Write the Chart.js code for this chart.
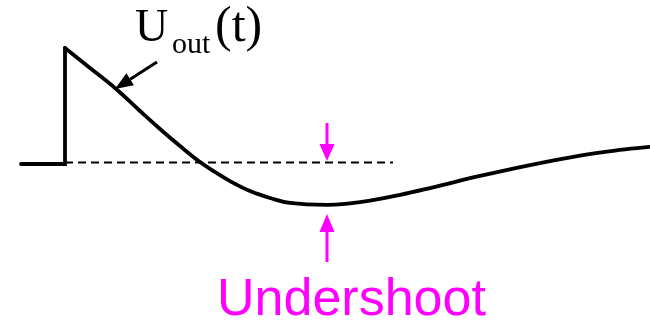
<!DOCTYPE html>
<html>
<head>
<meta charset="utf-8">
<script src="https://cdn.jsdelivr.net/npm/chart.js@4.4.1/dist/chart.umd.min.js"></script>
<style>
  html, body { margin: 0; padding: 0; background: #ffffff; }
  #wrap { width: 650px; height: 323px; }
</style>
</head>
<body>
<div id="wrap"><canvas id="c" width="650" height="323"></canvas></div>
<script>
// ---- data (time in arbitrary units, voltage normalised so the peak = 1) ----
const stepT = [-0.44, 0, 0];
const stepV = [0, 0, 1.0];

const responseT = [0, 0.25, 0.50, 0.75, 0.95, 1.15, 1.35, 1.50, 1.65, 1.85, 2.05, 2.25, 2.62, 2.85, 3.05, 3.35, 3.68, 4.15, 4.65, 5.15, 5.50, 5.85];
const responseV = [1.0, 0.828, 0.655, 0.457, 0.302, 0.155, 0.017, -0.069, -0.147, -0.233, -0.293, -0.336, -0.353, -0.339, -0.316, -0.267, -0.201, -0.103, -0.009, 0.073, 0.116, 0.147];

const referenceT = [0, 3.28];
const referenceV = [0.012, 0.012];

// annotation anchors (data units)
const undershootArrowT = 2.62;
const downArrowV = [0.353, 0.026];   // from, tip
const upArrowV = [-0.845, -0.431];   // from, tip
const labelArrowT = [0.92, 0.50];    // tail, tip
const labelArrowV = [0.879, 0.647];
const labelPos = [0.70, 1.06];
const undershootPos = [1.52, -1.302];

const toXY = (ts, vs) => ts.map((t, i) => ({ x: t, y: vs[i] }));

const annotations = {
  id: 'annotations',
  afterDatasetsDraw(chart) {
    const { ctx, scales: { x, y } } = chart;
    const px = t => x.getPixelForValue(t);
    const py = v => y.getPixelForValue(v);

    function arrow(x0, y0, x1, y1, color, lw, headLen, headW) {
      const ang = Math.atan2(y1 - y0, x1 - x0);
      const bx = x1 - headLen * Math.cos(ang), by = y1 - headLen * Math.sin(ang);
      ctx.save();
      ctx.strokeStyle = color; ctx.fillStyle = color; ctx.lineWidth = lw;
      ctx.beginPath(); ctx.moveTo(x0, y0); ctx.lineTo(bx, by); ctx.stroke();
      ctx.beginPath();
      ctx.moveTo(x1, y1);
      ctx.lineTo(bx + headW / 2 * Math.sin(ang), by - headW / 2 * Math.cos(ang));
      ctx.lineTo(bx - headW / 2 * Math.sin(ang), by + headW / 2 * Math.cos(ang));
      ctx.closePath(); ctx.fill();
      ctx.restore();
    }

    const mag = '#ff00ff';
    const ax = px(undershootArrowT);
    arrow(ax, py(downArrowV[0]), ax, py(downArrowV[1]), mag, 3, 17, 15);
    arrow(ax, py(upArrowV[0]), ax, py(upArrowV[1]), mag, 3, 18, 15);
    arrow(px(labelArrowT[0]), py(labelArrowV[0]), px(labelArrowT[1]), py(labelArrowV[1]), '#000000', 3, 18, 14);

    ctx.save();
    ctx.textBaseline = 'alphabetic';
    ctx.textAlign = 'left';
    ctx.fillStyle = '#000000';
    const lx = px(labelPos[0]), ly = py(labelPos[1]);
    ctx.font = '46px "Liberation Serif", "Times New Roman", serif';
    ctx.fillText('U', lx, ly);
    ctx.font = '30px "Liberation Serif", "Times New Roman", serif';
    ctx.fillText('out', lx + 37, ly + 12);
    ctx.font = '50px "Liberation Serif", "Times New Roman", serif';
    ctx.fillText('(t)', lx + 80, ly);

    ctx.fillStyle = mag;
    ctx.font = '52px "Liberation Sans", Arial, sans-serif';
    ctx.fillText('Undershoot', px(undershootPos[0]), py(undershootPos[1]));
    ctx.restore();
  }
};

new Chart(document.getElementById('c'), {
  type: 'line',
  data: {
    datasets: [
      {
        label: 'reference',
        data: toXY(referenceT, referenceV),
        borderColor: '#000000',
        borderWidth: 2,
        borderDash: [8, 5],
        pointRadius: 0,
        tension: 0
      },
      {
        label: 'step',
        data: toXY(stepT, stepV),
        borderColor: '#000000',
        borderWidth: 3.8,
        borderCapStyle: 'round',
        borderJoinStyle: 'miter',
        pointRadius: 0,
        tension: 0
      },
      {
        label: 'Uout',
        data: toXY(responseT, responseV),
        borderColor: '#000000',
        borderWidth: 3.8,
        borderCapStyle: 'round',
        pointRadius: 0,
        tension: 0.4
      }
    ]
  },
  options: {
    responsive: false,
    animation: false,
    devicePixelRatio: 1,
    layout: { padding: 0 },
    plugins: { legend: { display: false }, tooltip: { enabled: false } },
    scales: {
      x: { type: 'linear', min: -0.65, max: 5.85, display: false },
      y: { type: 'linear', min: -159 / 116, max: 164 / 116, display: false }
    }
  },
  plugins: [annotations]
});
</script>
</body>
</html>
